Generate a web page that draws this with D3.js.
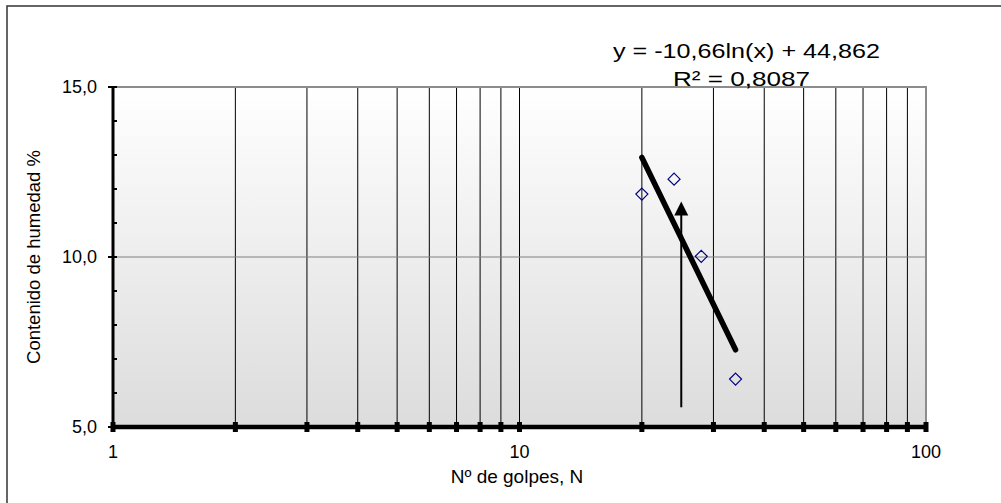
<!DOCTYPE html>
<html>
<head>
<meta charset="utf-8">
<script src="https://cdn.jsdelivr.net/npm/d3@7"></script>
<style>
  body { margin: 0; background: #fff; }
  text { font-family: "Liberation Sans", Arial, sans-serif; fill: #000; }
</style>
</head>
<body>
<div id="chart"></div>
<script>
// datos
const golpes = [20, 24, 28, 34];
const humedad = [11.85, 12.29, 10.02, 6.41];
const xTickValues = [1, 10, 100];
const yTickValues = [5, 10, 15];
const trendA = -10.66, trendB = 44.862;   // y = a ln(x) + b
const trendText = ["y = -10,66ln(x) + 44,862", "R² = 0,8087"];
const arrowN = 25, arrowFrom = 5.58, arrowTo = 11.63;

const width = 1001, height = 503;
const plotLeft = 113, plotRight = 926, plotTop = 87, plotBottom = 427;

const svg = d3.select('#chart').append('svg')
    .attr('width', width)
    .attr('height', height);

// marco exterior
svg.append('rect')
    .attr('x', 7).attr('y', 6)
    .attr('width', 1000).attr('height', 500)
    .attr('fill', 'none').attr('stroke', '#333').attr('stroke-width', 1.5);

const x = d3.scaleLog().domain([1, 100]).range([plotLeft, plotRight]);
const y = d3.scaleLinear().domain([5, 15]).range([plotBottom, plotTop]);

const grad = svg.append('defs').append('linearGradient')
    .attr('id', 'bg').attr('x1', 0).attr('y1', 0).attr('x2', 0).attr('y2', 1);
grad.append('stop').attr('offset', '0%').attr('stop-color', '#ffffff');
grad.append('stop').attr('offset', '100%').attr('stop-color', '#dcdcdc');

svg.append('rect')
    .attr('x', plotLeft).attr('y', plotTop)
    .attr('width', plotRight - plotLeft).attr('height', plotBottom - plotTop)
    .attr('fill', 'url(#bg)');

// rejilla vertical (log)
const gridX = d3.range(2, 100).filter(v => (v < 10) || (v % 10 === 0 && v < 100));
svg.append('g').selectAll('line')
    .data(gridX)
    .enter().append('line')
        .attr('x1', d => x(d)).attr('x2', d => x(d))
        .attr('y1', plotTop).attr('y2', plotBottom)
        .attr('stroke', '#000').attr('stroke-width', 1);

// rejilla horizontal
svg.append('line')
    .attr('x1', plotLeft).attr('x2', plotRight)
    .attr('y1', y(10)).attr('y2', y(10))
    .attr('stroke', '#808080').attr('stroke-width', 1.2);

// borde superior y derecho
svg.append('path')
    .attr('d', `M${plotLeft},${y(15)}H${x(100)}V${plotBottom}`)
    .attr('fill', 'none').attr('stroke', '#8c8c8c').attr('stroke-width', 2);

// eje Y
svg.append('line')
    .attr('x1', plotLeft).attr('x2', plotLeft).attr('y1', plotTop).attr('y2', plotBottom)
    .attr('stroke', '#000').attr('stroke-width', 3);
svg.append('g').selectAll('line')
    .data(d3.range(6, 15))
    .enter().append('line')
        .attr('x1', plotLeft).attr('x2', plotLeft + 4)
        .attr('y1', d => y(d)).attr('y2', d => y(d))
        .attr('stroke', '#000').attr('stroke-width', 2);
svg.append('g').selectAll('line')
    .data(yTickValues)
    .enter().append('line')
        .attr('x1', plotLeft - 5).attr('x2', plotLeft + 4)
        .attr('y1', d => y(d)).attr('y2', d => y(d))
        .attr('stroke', '#000').attr('stroke-width', 2);
svg.append('g').selectAll('text')
    .data(yTickValues)
    .enter().append('text')
        .attr('x', 97).attr('y', d => y(d) + 6)
        .attr('text-anchor', 'end')
        .style('font-size', '18px')
        .text(d => d3.format('.1f')(d).replace('.', ','));

// eje X
svg.append('line')
    .attr('x1', plotLeft).attr('x2', plotRight).attr('y1', plotBottom).attr('y2', plotBottom)
    .attr('stroke', '#000').attr('stroke-width', 4.5);
svg.append('g').selectAll('rect')
    .data([1].concat(gridX, [100]))
    .enter().append('rect')
        .attr('x', d => x(d) - 2.5).attr('y', plotBottom - 5)
        .attr('width', 5).attr('height', 10)
        .attr('fill', '#000');
svg.append('g').selectAll('text')
    .data(xTickValues)
    .enter().append('text')
        .attr('x', d => x(d)).attr('y', 458)
        .attr('text-anchor', 'middle')
        .style('font-size', '18px')
        .text(d => d);

// títulos de ejes
svg.append('text')
    .attr('x', 517).attr('y', 483)
    .attr('text-anchor', 'middle')
    .style('font-size', '19px')
    .text('Nº de golpes, N');
svg.append('text')
    .attr('transform', `translate(40,${(plotTop + plotBottom) / 2}) rotate(-90)`)
    .attr('text-anchor', 'middle')
    .style('font-size', '18.5px')
    .text('Contenido de humedad %');

// línea de tendencia
const nMin = d3.min(golpes), nMax = d3.max(golpes);
svg.append('line')
    .attr('x1', x(nMin)).attr('y1', y(trendA * Math.log(nMin) + trendB))
    .attr('x2', x(nMax)).attr('y2', y(trendA * Math.log(nMax) + trendB))
    .attr('stroke', '#000').attr('stroke-width', 5.5).attr('stroke-linecap', 'round');

// flecha
svg.append('line')
    .attr('x1', x(arrowN)).attr('x2', x(arrowN))
    .attr('y1', y(arrowFrom)).attr('y2', y(arrowTo) + 12)
    .attr('stroke', '#000').attr('stroke-width', 2);
svg.append('path')
    .attr('d', `M${x(arrowN)},${y(arrowTo)}l-7,14h14z`)
    .attr('fill', '#000');

// puntos
svg.append('g').selectAll('path')
    .data(golpes)
    .enter().append('path')
        .attr('d', (d, i) => `M${x(d)},${y(humedad[i]) - 6}l6,6l-6,6l-6,-6z`)
        .attr('fill', 'none').attr('stroke', '#000080').attr('stroke-width', 1.2);

// ecuación
svg.append('text')
    .attr('x', 613).attr('y', 58)
    .attr('textLength', 267).attr('lengthAdjust', 'spacingAndGlyphs')
    .style('font-size', '21px')
    .text(trendText[0]);
svg.append('text')
    .attr('x', 673).attr('y', 86)
    .attr('textLength', 137).attr('lengthAdjust', 'spacingAndGlyphs')
    .style('font-size', '21px')
    .text(trendText[1]);
</script>
</body>
</html>
